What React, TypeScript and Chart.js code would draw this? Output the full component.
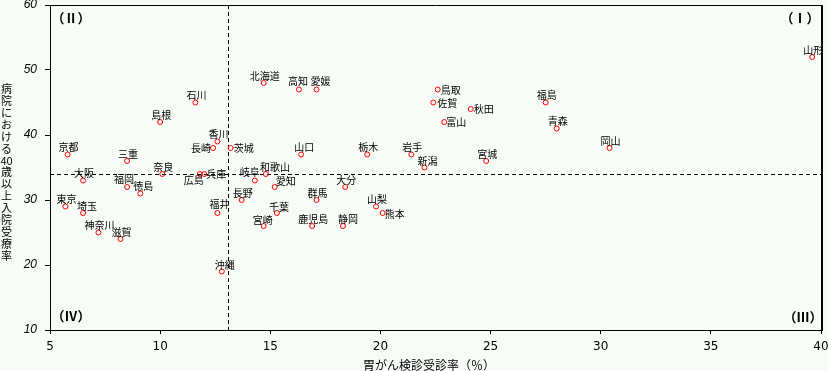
import React, { useEffect, useRef } from "react";
import { Chart, registerables } from "chart.js";

Chart.register(...registerables);

// ---- data ----
const PREFS = [
  "北海道", "青森", "岩手", "宮城", "秋田", "山形", "福島", "茨城", "栃木", "群馬",
  "埼玉", "千葉", "東京", "神奈川", "新潟", "富山", "石川", "福井", "山梨", "長野",
  "岐阜", "静岡", "愛知", "三重", "滋賀", "京都", "大阪", "兵庫", "奈良", "和歌山",
  "鳥取", "島根", "岡山", "広島", "山口", "徳島", "香川", "愛媛", "高知", "福岡",
  "佐賀", "長崎", "熊本", "大分", "宮崎", "鹿児島", "沖縄",
];
const SCREENING_RATE = [
  14.7, 28.0, 21.4, 24.8, 24.1, 39.6, 27.5, 13.2, 19.4, 17.1,
  6.5, 15.3, 5.7, 7.2, 22.0, 22.9, 11.6, 12.6, 19.8, 13.7,
  14.3, 18.3, 15.2, 8.5, 8.2, 5.8, 6.5, 12.0, 10.1, 14.8,
  22.6, 10.0, 30.4, 11.8, 16.4, 9.1, 12.6, 17.1, 16.3, 8.5,
  22.4, 12.4, 20.1, 18.4, 14.7, 16.9, 12.8,
];
const HOSPITAL_RATE = [
  48, 41, 37, 36, 44, 52, 45, 38, 37, 30,
  28, 28, 29, 25, 35, 42, 45, 28, 29, 30,
  33, 26, 32, 36, 24, 37, 33, 34, 34, 34,
  47, 42, 38, 34, 37, 31, 39, 47, 47, 32,
  45, 38, 28, 32, 26, 26, 19,
];
const X_AVERAGE = 13.1;
const Y_AVERAGE = 34;
const X_TICKS = [5, 10, 15, 20, 25, 30, 35, 40];
const Y_TICKS = [10, 20, 30, 40, 50, 60];
const X_TITLE = "胃がん検診受診率（％）";
const Y_TITLE = "病院における40歳以上入院受療率";
const QUADRANTS = ["（Ⅰ）", "（Ⅱ）", "（Ⅲ）", "（Ⅳ）"];

// ---- label placement (layout only) ----
const LABEL_OFFSET: Record<string, [number, number]> = {
  鳥取: [13, 0.5], 佐賀: [14, 0.5], 秋田: [13, 0.5], 富山: [12, 0.5],
  兵庫: [12, 0], 茨城: [13, 0], 熊本: [12, 1], 長崎: [-12, 0],
  広島: [-6, 6], 和歌山: [9, -7], 愛知: [11, -6], 岐阜: [-5, -8],
  埼玉: [4, -7], 静岡: [5, -7], 愛媛: [4, -8], 高知: [-1, -8],
  山口: [3, -7], 新潟: [3, -6], 福岡: [-3, -8], 徳島: [3, -7],
  沖縄: [3, -6], 福井: [2, -9], 宮崎: [-1, -6], 千葉: [2, -6],
};

const BG = "#f7fcf7";
const CJK = "'Noto Sans CJK JP', sans-serif";

export default function App() {
  const ref = useRef<HTMLCanvasElement>(null);

  useEffect(() => {
    document.body.style.margin = "0";
    document.body.style.background = BG;
    const canvas = ref.current!;

    const overlay = {
      id: "overlay",
      beforeDraw(chart: any) {
        const c = chart.ctx;
        c.save();
        c.fillStyle = BG;
        c.fillRect(0, 0, chart.width, chart.height);
        c.restore();
      },
      beforeDatasetsDraw(chart: any) {
        const c = chart.ctx;
        const { left, right, top, bottom } = chart.chartArea;
        const xs = chart.scales.x;
        const ys = chart.scales.y;
        c.save();
        c.strokeStyle = "#000";
        c.lineWidth = 1;
        c.setLineDash([4, 3]);
        const vx = Math.round(xs.getPixelForValue(X_AVERAGE)) + 0.5;
        c.beginPath();
        c.moveTo(vx, top);
        c.lineTo(vx, bottom);
        c.stroke();
        const hy = Math.round(ys.getPixelForValue(Y_AVERAGE)) + 0.5;
        c.beginPath();
        c.moveTo(left, hy);
        c.lineTo(right, hy);
        c.stroke();
        c.restore();
      },
      afterDatasetsDraw(chart: any) {
        const c = chart.ctx;
        const { left, right, top, bottom } = chart.chartArea;
        const meta = chart.getDatasetMeta(0);
        c.save();
        c.beginPath();
        c.rect(left, top, right - left, bottom - top);
        c.clip();
        c.fillStyle = "#000";
        c.font = `10px ${CJK}`;
        c.textAlign = "center";
        c.textBaseline = "middle";
        meta.data.forEach((pt: any, i: number) => {
          const name = PREFS[i];
          const [dx, dy] = LABEL_OFFSET[name] || [1, -7];
          c.fillText(name, pt.x + dx, pt.y + dy);
        });
        c.restore();

        // quadrant labels
        c.save();
        c.fillStyle = "#000";
        c.font = `bold 13px ${CJK}`;
        c.textAlign = "center";
        c.textBaseline = "middle";
        c.fillText(QUADRANTS[0], right - 21, top + 13);
        c.fillText(QUADRANTS[1], left + 21, top + 13);
        c.fillText(QUADRANTS[2], right - 18, bottom - 13);
        c.fillText(QUADRANTS[3], left + 21, bottom - 14);
        c.restore();
      },
      afterDraw(chart: any) {
        const c = chart.ctx;
        const { left, right, top } = chart.chartArea;
        c.save();
        c.strokeStyle = "#000";
        c.lineWidth = 1;
        c.beginPath();
        c.moveTo(left, top + 0.5);
        c.lineTo(right, top + 0.5);
        c.stroke();
        c.lineWidth = 2;
        c.beginPath();
        c.moveTo(right + 1, top);
        c.lineTo(right + 1, chart.chartArea.bottom + 1);
        c.stroke();

        // titles
        c.fillStyle = "#000";
        c.font = `12px ${CJK}`;
        c.textAlign = "center";
        c.textBaseline = "middle";
        c.fillText(X_TITLE, 429, 365);

        c.font = `11px ${CJK}`;
        const parts = Y_TITLE.match(/\d+|./g) || [];
        parts.forEach((ch, i) => {
          c.fillText(ch, 6.5, 89 + i * 11.9);
        });
        c.restore();
      },
    };

    const chart = new Chart(canvas, {
      type: "scatter",
      data: {
        datasets: [
          {
            data: SCREENING_RATE.map((x, i) => ({ x, y: HOSPITAL_RATE[i] })),
            pointStyle: "circle",
            pointRadius: 2.5,
            pointBorderWidth: 1,
            borderColor: "#ff0000",
            backgroundColor: "rgba(0,0,0,0)",
          },
        ],
      },
      options: {
        responsive: false,
        animation: false,
        layout: { padding: { left: 0, right: 7, top: 5, bottom: 0 } },
        plugins: { legend: { display: false }, tooltip: { enabled: false } },
        scales: {
          x: {
            type: "linear",
            min: 5,
            max: 40,
            afterFit: (s: any) => {
              s.height = 41;
              s.paddingLeft = 0;
              s.paddingRight = 0;
            },
            afterBuildTicks: (s: any) => { s.ticks = X_TICKS.map((v) => ({ value: v })); },
            grid: { drawOnChartArea: false, drawTicks: true, tickLength: 4, color: "#000" },
            border: { color: "#000", width: 1 },
            ticks: {
              color: "#000",
              padding: 6,
              maxRotation: 0,
              font: { family: "'DejaVu Sans', sans-serif", size: 12 },
            },
          },
          y: {
            type: "linear",
            min: 10,
            max: 60,
            afterFit: (s: any) => {
              s.width = 50;
              s.paddingTop = 0;
              s.paddingBottom = 0;
            },
            afterBuildTicks: (s: any) => { s.ticks = Y_TICKS.map((v) => ({ value: v })); },
            grid: { drawOnChartArea: false, drawTicks: true, tickLength: 5, color: "#000" },
            border: { color: "#000", width: 1 },
            ticks: {
              color: "#000",
              padding: 8,
              font: { family: "'Liberation Sans', sans-serif", size: 12, style: "italic" },
            },
          },
        },
      },
      plugins: [overlay],
    } as any);

    return () => chart.destroy();
  }, []);

  return <canvas ref={ref} width={828} height={371} style={{ display: "block" }} />;
}
